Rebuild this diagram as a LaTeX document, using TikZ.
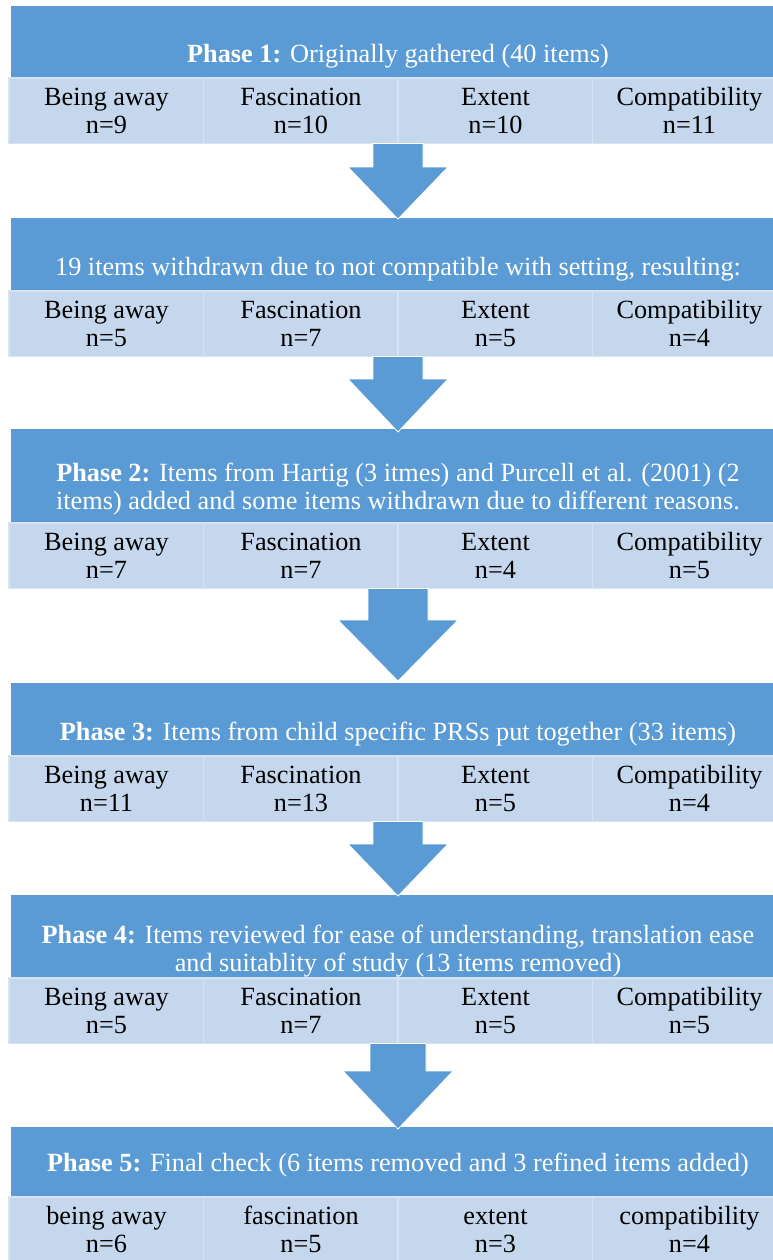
\documentclass[tikz,border=0pt]{standalone}
\usepackage{fontspec}
\setmainfont{Liberation Serif}
\definecolor{hdr}{HTML}{5B9BD5}
\definecolor{cellfill}{HTML}{C5D7EC}
\definecolor{cellline}{HTML}{D8E3F1}
\tikzset{
  hdrbox/.style={fill=hdr},
  cellbox/.style={fill=cellfill, draw=cellline, line width=1.1pt},
  hdrtext/.style={text=white, font=\fontsize{19.7}{20.6}\selectfont, align=center, anchor=base, inner sep=0pt},
  celltext/.style={text=black, font=\fontsize{19.7}{21}\selectfont, align=center, anchor=base, inner sep=0pt},
  arrowshape/.style={fill=hdr, draw=white, line width=0.6pt, line join=miter}
}
% #1 top, #2-#5 category names, #6-#9 counts (anchor base = baseline of last line)
\newcommand\cellrow[9]{%
  \foreach \xx in {9,203.5,398,592.5}{\filldraw[cellbox] (\xx,#1) rectangle ++(194.5,65.5);}
  \node[celltext] (c#1a) at (106.5,#1+55) {#2\\n=#6};
  \node[celltext] (c#1b) at (301,#1+55) {#3\\n=#7};
  \node[celltext] (c#1c) at (495.5,#1+55) {#4\\n=#8};
  \node[celltext] (c#1d) at (689.5,#1+55) {#5\\n=#9};
}
% #1 centre x, #2 top, #3 head top, #4 tip, #5 half shaft, #6 half head
\newcommand\flowarrow[6]{%
  \filldraw[arrowshape] (#1-#5,#2) -- (#1+#5,#2) -- (#1+#5,#3) -- (#1+#6,#3)
    -- (#1,#4) -- (#1-#6,#3) -- (#1-#5,#3) -- cycle;
}
\begin{document}
\begin{tikzpicture}[x=0.75pt,y=-0.75pt]
\useasboundingbox (0,0) rectangle (773,1260);
\clip (0,0) rectangle (773,1260);
\fill[white] (0,0) rectangle (773,1260);

% header boxes
\fill[hdrbox] (11,6) rectangle (790,78);
\fill[hdrbox] (11,218) rectangle (790,291);
\fill[hdrbox] (11,429) rectangle (790,523);
\fill[hdrbox] (11,683) rectangle (790,756);
\fill[hdrbox] (11,895) rectangle (790,978);
\fill[hdrbox] (11,1127) rectangle (790,1197);

% cell rows
\cellrow{78}{Being away}{Fascination}{Extent}{Compatibility}{9}{10}{10}{11}
\cellrow{291}{Being away}{Fascination}{Extent}{Compatibility}{5}{7}{5}{4}
\cellrow{523}{Being away}{Fascination}{Extent}{Compatibility}{7}{7}{4}{5}
\cellrow{756}{Being away}{Fascination}{Extent}{Compatibility}{11}{13}{5}{4}
\cellrow{978}{Being away}{Fascination}{Extent}{Compatibility}{5}{7}{5}{5}
\cellrow{1197}{being away}{fascination}{extent}{compatibility}{6}{5}{3}{4}

% arrows
\flowarrow{398}{143.5}{167}{219}{25}{50}
\flowarrow{398}{356.5}{379}{432}{25}{50}
\flowarrow{398}{588.5}{620}{681}{30}{60}
\flowarrow{398}{821.5}{844}{896}{25}{50}
\flowarrow{398}{1043.5}{1071}{1129}{28}{55}

% header texts (anchor base = baseline of last line)
\node[hdrtext] (h1) at (398,62) {\textbf{Phase 1:} Originally gathered (40 items)};
\node[hdrtext] (h2) at (398,275) {19 items withdrawn due to not compatible with setting, resulting:};
\node[hdrtext] (h3) at (398,509) {\textbf{Phase 2:} Items from Hartig (3 itmes) and Purcell et al. (2001) (2\\items) added and some items withdrawn due to different reasons.};
\node[hdrtext] (h4) at (398,740) {\textbf{Phase 3:} Items from child specific PRSs put together (33 items)};
\node[hdrtext] (h5) at (398,971) {\textbf{Phase 4:} Items reviewed for ease of understanding, translation ease\\and suitablity of study (13 items removed)};
\node[hdrtext] (h6) at (398,1171) {\textbf{Phase 5:} Final check (6 items removed and 3 refined items added)};
\end{tikzpicture}
\end{document}
